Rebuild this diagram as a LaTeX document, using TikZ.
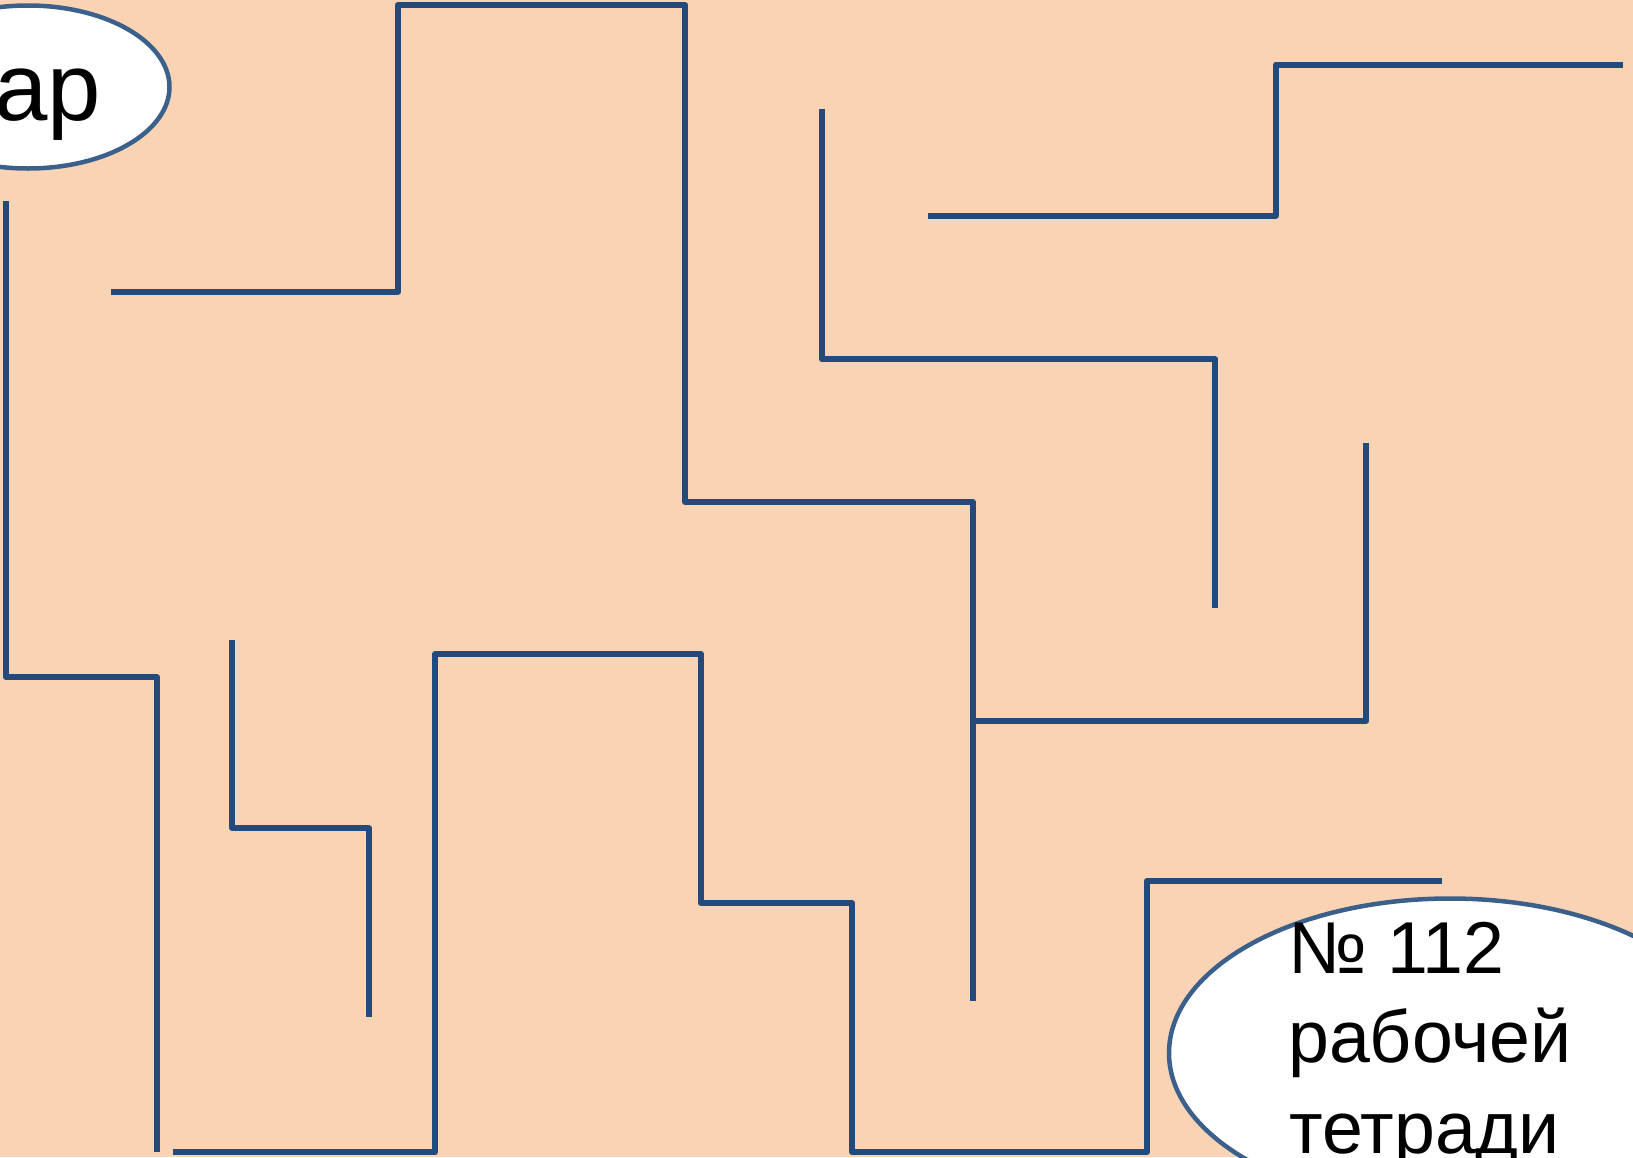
\documentclass[tikz,border=0pt]{standalone}
\usepackage{fontspec}
\setmainfont{Liberation Sans}
\usetikzlibrary{shapes.geometric}
\definecolor{bg}{HTML}{FAD3B4}
\definecolor{maze}{HTML}{234A7D}
\definecolor{ring}{HTML}{3C608C}
\begin{document}
\begin{tikzpicture}[x=1pt,y=-1pt,
  wall/.style={draw=maze,line width=6pt,line join=round},
  oval/.style={ellipse,draw=ring,fill=white,line width=4.5pt,inner sep=0pt},
  bigtxt/.style={font=\fontsize{96}{115}\selectfont,inner sep=0pt},
  midtxt/.style={font=\fontsize{73.5}{88}\selectfont,inner sep=0pt,anchor=base west}]
\useasboundingbox (0,0) rectangle (1633,1157);
\clip (0,0) rectangle (1633,1157);
\fill[bg] (0,0) rectangle (1633,1157);
% maze walls
\draw[wall] (6,201) -- (6,677) -- (156.7,677) -- (156.7,1152);
\draw[wall] (111.4,291.6) -- (397.9,291.6) -- (397.9,5) -- (685.3,5) -- (685.3,502) -- (972.8,502) -- (972.8,1001);
\draw[wall] (972.8,720.7) -- (1366.4,720.7) -- (1366.4,442.6);
\draw[wall] (821.8,109.4) -- (821.8,359.3) -- (1215.4,359.3) -- (1215.4,608.2);
\draw[wall] (928,215.6) -- (1275.8,215.6) -- (1275.8,64.6) -- (1622.7,64.6);
\draw[wall] (232.3,639.5) -- (232.3,828) -- (368.7,828) -- (368.7,1016.5);
\draw[wall] (172.9,1152) -- (435.3,1152) -- (435.3,654) -- (701,654) -- (701,903) -- (852,903) -- (852,1152) -- (1146.7,1152) -- (1146.7,881) -- (1441.5,881);
% ovals
\node[oval, minimum width=283pt, minimum height=163pt] (e1) at (28,87) {};
\node[bigtxt, anchor=base east] (t0) at (101,120) {ар};
\node[oval, minimum width=562pt, minimum height=309pt] (e2) at (1450,1053) {};
\node[midtxt] (t1) at (1288,973) {№ 112};
\node[midtxt] (t2) at (1288,1062) {рабочей};
\node[midtxt] (t3) at (1289,1153) {тетради};
\end{tikzpicture}
\end{document}
